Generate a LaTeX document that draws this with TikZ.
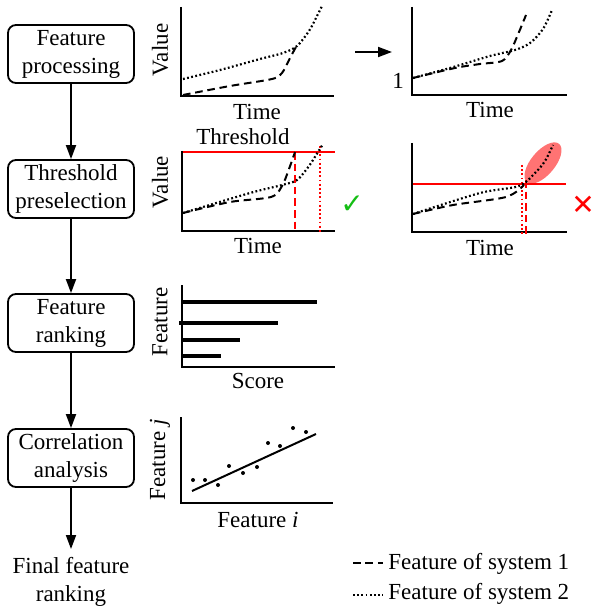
\documentclass[tikz,border=0pt]{standalone}
\usepackage{fontspec}
\setmainfont{Liberation Serif}
\newfontfamily\symfont{DejaVu Sans}
\usetikzlibrary{arrows.meta}
\definecolor{okgreen}{RGB}{20,190,20}
\begin{document}
\begin{tikzpicture}[x=0.5pt,y=-0.5pt,font=\fontsize{11.5}{14}\selectfont,
  stepbox/.style={draw, line width=0.9pt, rounded corners=4pt, minimum width=63pt, minimum height=29pt, inner sep=1pt, align=center},
  flow/.style={line width=0.9pt, -{Triangle[width=5pt,length=7pt]}},
  axis/.style={line width=1pt},
  sysone/.style={line width=1pt, dash pattern=on 3.8pt off 2.4pt},
  systwo/.style={line width=1.1pt, dash pattern=on 0.9pt off 1.2pt},
  thr/.style={red, line width=1pt},
  thrdash/.style={thr, dash pattern=on 3.8pt off 2pt},
  thrdot/.style={thr, line width=1.1pt, dash pattern=on 0.9pt off 1.2pt},
  bar/.style={line width=2pt},
  lbl/.style={inner sep=0pt},
  ylbl/.style={inner sep=0pt, rotate=90}]
\useasboundingbox (0,0) rectangle (592,609);

% ---- flow column ----
\node[stepbox] (b1) at (71,54) {Feature\\processing};
\node[stepbox] (b2) at (71,189) {Threshold\\preselection};
\node[stepbox] (b3) at (71,323) {Feature\\ranking};
\node[stepbox] (b4) at (71,458) {Correlation\\analysis};
\node[align=center, inner sep=4pt] (fin) at (71,582) {Final feature\\ranking};
\draw[flow] (b1) -- (b2);
\draw[flow] (b2) -- (b3);
\draw[flow] (b3) -- (b4);
\draw[flow] (b4) -- (fin);

% ---- plot 1: raw features ----
\draw[axis] (181,7) -- (181,96) -- (334,96);
\node[ylbl] (p1y) at (160,50) {Value};
\node[lbl] (p1x) at (257,112) {Time};
\draw[systwo] plot[smooth] coordinates {(183,79) (220,70) (260,59) (283,53) (297,46) (309,31) (317,16) (322,6)};
\draw[sysone] plot[smooth] coordinates {(183,95) (230,86) (272,79) (282,73) (290,58) (297,45)};

% ---- arrow ----
\coordinate (arrs) at (355,52);
\coordinate (arre) at (392,52);
\draw[flow] (arrs) -- (arre);

% ---- plot 2: normalised features ----
\draw[axis] (412,7) -- (412,95) -- (567,95);
\node[lbl] (p2one) at (398,81) {1};
\node[lbl] (p2x) at (490,110) {Time};
\draw[systwo] plot[smooth] coordinates {(413,78) (450,68) (490,56) (515,50) (530,43) (543,29) (552,10)};
\draw[sysone] plot[smooth] coordinates {(413,78) (455,68) (480,64) (502,61) (511,50) (519,32) (526,15)};

% ---- plot 3: threshold accepted ----
\node[lbl] (p3t) at (243,137) {Threshold};
\draw[thr] (182,152) -- (335,152);
\draw[axis] (182,151) -- (182,231) -- (335,231);
\node[ylbl] (p3y) at (160,182) {Value};
\node[lbl] (p3x) at (258,246) {Time};
\draw[thrdash] (295,152) -- (295,233);
\draw[thrdot] (320,146) -- (320,233);
\draw[sysone] plot[smooth] coordinates {(183,213) (230,202) (271,197) (282,186) (289,169) (295,152)};
\draw[systwo] plot[smooth] coordinates {(183,213) (250,193) (282,185) (297,180) (309,166) (318,152) (323,144)};
\node[text=okgreen, inner sep=0pt] (ok) at (352,205) {\symfont\fontsize{14}{14}\selectfont ✓};

% ---- plot 4: threshold rejected ----
\fill[red!55, rotate around={50:(543,163)}] (543,163) ellipse [x radius=12.5pt, y radius=6pt];
\draw[thr] (412,184) -- (566,184);
\draw[axis] (412,143) -- (412,232) -- (567,232);
\node[lbl] (p4x) at (490,248) {Time};
\draw[thrdot] (522,165) -- (522,235);
\draw[thrdash] (526,180) -- (526,235);
\draw[sysone] plot[smooth] coordinates {(413,214) (453,205) (506,197) (524,185)};
\draw[systwo] plot[smooth] coordinates {(413,214) (480,193) (519,186) (535,173) (545,161) (553,145)};
\node[text=red, inner sep=0pt] (no) at (583,205) {\symfont\fontsize{14}{14}\selectfont ✕};

% ---- plot 5: ranking bars ----
\draw[axis] (182,285) -- (182,367) -- (335,367);
\node[ylbl] (p5y) at (160,322) {Feature};
\node[lbl] (p5x) at (258,381) {Score};
\draw[bar] (182,302) -- (317,302);
\draw[bar] (179,323) -- (278,323);
\draw[bar] (182,340) -- (240,340);
\draw[bar] (182,356) -- (221,356);

% ---- plot 6: correlation ----
\draw[axis] (181,417) -- (181,503) -- (333,503);
\node[ylbl] (p6y) at (160,460) {Feature \textit{j}};
\node[lbl] (p6x) at (258,520) {Feature \textit{i}};
\draw[line width=1pt] (192,491) -- (316,434);
\foreach \px/\py in {193/480, 205/480, 218/485, 229/466, 243/473, 257/467, 268/443, 280/446, 293/428, 306/432}
  \fill (\px,\py) circle[radius=1pt];

% ---- legend ----
\coordinate (l1a) at (353,563);
\coordinate (l1b) at (383,563);
\coordinate (l2a) at (353,595);
\coordinate (l2b) at (383,595);
\draw[sysone] (l1a) -- (l1b);
\draw[systwo] (l2a) -- (l2b);
\node[anchor=west, inner sep=0pt] (leg1) at (388,564) {Feature of system 1};
\node[anchor=west, inner sep=0pt] (leg2) at (388,594) {Feature of system 2};
\end{tikzpicture}
\end{document}
